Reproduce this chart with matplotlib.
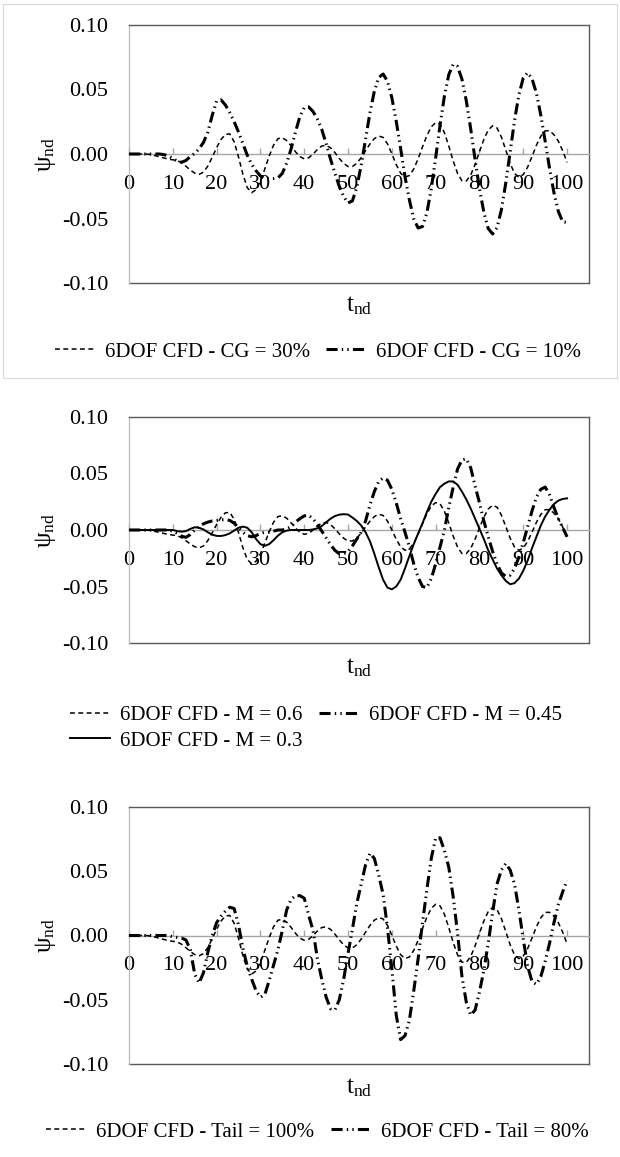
import numpy as np
import matplotlib
matplotlib.use("Agg")
import matplotlib.pyplot as plt
from matplotlib.patches import Rectangle
from matplotlib.ticker import FormatStrFormatter

plt.rcParams['font.family'] = ['Liberation Serif', 'DejaVu Serif']
plt.rcParams['mathtext.fontset'] = 'custom'
plt.rcParams['mathtext.rm'] = 'Liberation Serif'
plt.rcParams['mathtext.it'] = 'Liberation Serif:italic'
plt.rcParams['lines.scale_dashes'] = False

# non-dimensional time samples
t_nd = np.arange(0, 101)

# baseline case (CG = 30%, M = 0.6, Tail = 100%)
psi_base = [
    0, 0, 0, 0, 0, -0.0005, -0.0013, -0.0022, -0.0031, -0.0040,
    -0.0045, -0.0050, -0.0068, -0.0095, -0.0125, -0.0148, -0.0158, -0.0141, -0.0093, -0.0025,
    0.0049, 0.0112, 0.0152, 0.0156, 0.0095, -0.0023, -0.0157, -0.0261, -0.0300, -0.0276,
    -0.0211, -0.0116, -0.0016, 0.0069, 0.0119, 0.0126, 0.0104, 0.0063, 0.0017, -0.0020,
    -0.0038, -0.0030, -0.0001, 0.0035, 0.0062, 0.0067, 0.0048, 0.0011, -0.0034, -0.0073,
    -0.0097, -0.0097, -0.0072, -0.0028, 0.0026, 0.0078, 0.0119, 0.0139, 0.0129, 0.0079,
    0.0001, -0.0082, -0.0149, -0.0179, -0.0167, -0.0116, -0.0037, 0.0056, 0.0143, 0.0211,
    0.0243, 0.0231, 0.0165, 0.0061, -0.0054, -0.0151, -0.0208, -0.0209, -0.0163, -0.0081,
    0.0018, 0.0113, 0.0186, 0.0219, 0.0202, 0.0132, 0.0031, -0.0072, -0.0151, -0.0180,
    -0.0159, -0.0101, -0.0019, 0.0068, 0.0138, 0.0180, 0.0180, 0.0150, 0.0100, 0.0025,
    -0.0065,
]

# CG = 10%
psi_cg10 = [
    0, 0, 0, 0, 0, 0, 0, 0, -0.0005, -0.0015,
    -0.0035, -0.0055, -0.0064, -0.0050, -0.0020, 0.0005, 0.0040, 0.0090, 0.0170, 0.0300,
    0.0410, 0.0420, 0.0380, 0.0320, 0.0250, 0.0170, 0.0080, -0.0010, -0.0080, -0.0130,
    -0.0170, -0.0190, -0.0190, -0.0190, -0.0185, -0.0150, -0.0070, 0.0040, 0.0170, 0.0290,
    0.0360, 0.0365, 0.0330, 0.0270, 0.0190, 0.0080, -0.0040, -0.0150, -0.0250, -0.0330,
    -0.0380, -0.0363, -0.0257, -0.0087, 0.0115, 0.0319, 0.0487, 0.0593, 0.0620, 0.0564,
    0.0436, 0.0254, 0.0043, -0.0176, -0.0356, -0.0503, -0.0574, -0.0562, -0.0455, -0.0268,
    -0.0028, 0.0223, 0.0450, 0.0616, 0.0695, 0.0679, 0.0580, 0.0411, 0.0194, -0.0043,
    -0.0268, -0.0452, -0.0578, -0.0620, -0.0571, -0.0433, -0.0225, 0.0016, 0.0259, 0.0460,
    0.0590, 0.0630, 0.0584, 0.0470, 0.0301, 0.0098, -0.0112, -0.0300, -0.0445, -0.0526,
    -0.0530,
]

# M = 0.45
psi_m045 = [
    0, 0, 0, 0, 0, 0, 0, 0, 0, 0,
    -0.0010, -0.0030, -0.0055, -0.0065, -0.0040, 0.0000, 0.0030, 0.0055, 0.0070, 0.0080,
    0.0085, 0.0090, 0.0092, 0.0085, 0.0060, 0.0020, -0.0020, -0.0050, -0.0060, -0.0050,
    -0.0030, -0.0020, -0.0020, -0.0010, 0.0000, 0.0000, 0.0010, 0.0030, 0.0070, 0.0100,
    0.0125, 0.0130, 0.0100, 0.0050, -0.0010, -0.0070, -0.0130, -0.0180, -0.0210, -0.0210,
    -0.0190, -0.0140, -0.0080, -0.0020, 0.0080, 0.0220, 0.0340, 0.0430, 0.0460, 0.0440,
    0.0360, 0.0240, 0.0100, -0.0020, -0.0150, -0.0300, -0.0420, -0.0500, -0.0510, -0.0430,
    -0.0300, -0.0150, 0.0000, 0.0200, 0.0380, 0.0540, 0.0620, 0.0630, 0.0550, 0.0390,
    0.0240, 0.0080, -0.0060, -0.0190, -0.0300, -0.0380, -0.0410, -0.0400, -0.0340, -0.0240,
    -0.0110, 0.0030, 0.0170, 0.0290, 0.0360, 0.0380, 0.0310, 0.0200, 0.0100, 0.0020,
    -0.0060,
]

# M = 0.3
psi_m03 = [
    0, 0, 0, 0, 0, 0, 0, 0, 0, 0,
    0, -0.0010, -0.0015, -0.0010, 0.0010, 0.0024, 0.0020, 0.0005, -0.0020, -0.0042,
    -0.0052, -0.0053, -0.0045, -0.0030, -0.0005, 0.0020, 0.0030, 0.0020, -0.0020, -0.0080,
    -0.0125, -0.0140, -0.0125, -0.0090, -0.0050, -0.0020, -0.0005, 0.0000, 0.0000, 0.0000,
    0.0000, 0.0000, 0.0005, 0.0015, 0.0035, 0.0068, 0.0100, 0.0123, 0.0136, 0.0140,
    0.0137, 0.0110, 0.0080, 0.0040, -0.0020, -0.0100, -0.0210, -0.0330, -0.0440, -0.0510,
    -0.0525, -0.0500, -0.0440, -0.0340, -0.0230, -0.0125, -0.0030, 0.0060, 0.0160, 0.0250,
    0.0320, 0.0380, 0.0410, 0.0430, 0.0430, 0.0400, 0.0340, 0.0270, 0.0190, 0.0100,
    0.0010, -0.0080, -0.0180, -0.0260, -0.0340, -0.0400, -0.0450, -0.0480, -0.0470, -0.0430,
    -0.0360, -0.0270, -0.0160, -0.0060, 0.0040, 0.0120, 0.0180, 0.0230, 0.0260, 0.0275,
    0.0280,
]

# Tail = 80%
psi_tail80 = [
    0, 0, 0, 0, 0, 0, 0, 0, 0, 0,
    -0.0010, -0.0015, -0.0020, -0.0035, -0.0110, -0.0300, -0.0370, -0.0290, -0.0130, 0.0000,
    0.0100, 0.0150, 0.0190, 0.0220, 0.0210, 0.0080, -0.0100, -0.0240, -0.0340, -0.0430,
    -0.0480, -0.0460, -0.0350, -0.0230, -0.0110, 0.0040, 0.0200, 0.0280, 0.0310, 0.0310,
    0.0290, 0.0160, 0.0040, -0.0180, -0.0340, -0.0480, -0.0570, -0.0580, -0.0500, -0.0340,
    -0.0140, 0.0050, 0.0250, 0.0400, 0.0550, 0.0640, 0.0600, 0.0470, 0.0320, 0.0060,
    -0.0260, -0.0620, -0.0810, -0.0780, -0.0660, -0.0430, -0.0180, 0.0100, 0.0360, 0.0600,
    0.0760, 0.0760, 0.0660, 0.0530, 0.0300, 0.0020, -0.0320, -0.0520, -0.0620, -0.0580,
    -0.0440, -0.0270, -0.0060, 0.0180, 0.0400, 0.0510, 0.0560, 0.0510, 0.0400, 0.0200,
    -0.0030, -0.0240, -0.0360, -0.0380, -0.0320, -0.0200, -0.0060, 0.0100, 0.0240, 0.0340,
    0.0430,
]

x_ticks = list(range(0, 101, 10))
y_ticks = [-0.10, -0.05, 0.00, 0.05, 0.10]

labels_cg = ["6DOF CFD - CG = 30%", "6DOF CFD - CG = 10%"]
labels_m = ["6DOF CFD - M = 0.6", "6DOF CFD - M = 0.45", "6DOF CFD - M = 0.3"]
labels_tail = ["6DOF CFD - Tail = 100%", "6DOF CFD - Tail = 80%"]

W, H = 620, 1157
fig = plt.figure(figsize=(W / 100, H / 100), dpi=100)

DASHED = dict(color="black", lw=1.1, linestyle=(0, (3.5, 2.5)))
DASHDOT = dict(color="black", lw=2.2, linestyle=(0, (8.0, 3.0, 1.0, 3.0, 1.0, 3.0)),
               dash_capstyle="butt")
SOLID = dict(color="black", lw=1.4)

# light frame round the first chart
fig.add_artist(Rectangle((3 / W, 1 - 378 / H), 614 / W, 374 / H,
                         transform=fig.transFigure, fill=False,
                         ec="#d9d9d9", lw=0.8))


def make_axes(top, bottom):
    ax = fig.add_axes([129 / W, 1 - bottom / H, 460 / W, (bottom - top) / H])
    ax.set_xlim(0, 105)
    ax.set_ylim(-0.10, 0.10)
    ax.set_xticks(x_ticks)
    ax.set_yticks(y_ticks)
    ax.yaxis.set_major_formatter(FormatStrFormatter("%.2f"))
    ax.spines["bottom"].set_position(("data", 0))
    ax.spines["bottom"].set_color("#a6a6a6")
    ax.spines["left"].set_color("#bfbfbf")
    for s in ("top", "right"):
        ax.spines[s].set_color("#595959")
    for s in ax.spines.values():
        s.set_linewidth(1.0)
    ax.axhline(-0.10, color="#595959", lw=1.0, clip_on=False)
    ax.tick_params(axis="x", direction="in", length=4, color="#a6a6a6",
                   width=1, pad=15, labelsize=16)
    ax.tick_params(axis="y", length=0, pad=15, labelsize=16)
    return ax


def axis_titles(ylab_y, xlab_y):
    fig.text(45 / W, 1 - ylab_y / H, r"$\mathrm{\psi}_{\mathrm{nd}}$", rotation=90,
             ha="center", va="center", fontsize=18)
    fig.text(359 / W, 1 - xlab_y / H, r"$\mathrm{t}_{\mathrm{nd}}$",
             ha="center", va="center", fontsize=18)


def add_legend(ax, handles, labels, cx, cy):
    ax.legend(handles, labels, loc="center", bbox_to_anchor=(cx / W, 1 - cy / H),
              bbox_transform=fig.transFigure, ncol=2, frameon=False, fontsize=15,
              handlelength=1.9, handletextpad=0.5, columnspacing=0.8,
              labelspacing=0.3, borderpad=0)


# panel 1: CG position
ax1 = make_axes(25, 283)
l1, = ax1.plot(t_nd, psi_base, zorder=3, **DASHED)
l2, = ax1.plot(t_nd, psi_cg10, zorder=3, **DASHDOT)
axis_titles(154, 306)
add_legend(ax1, [l1, l2], labels_cg, 318, 352)

# panel 2: Mach number
ax2 = make_axes(417, 643)
m1, = ax2.plot(t_nd, psi_base, zorder=3, **DASHED)
m2, = ax2.plot(t_nd, psi_m045, zorder=3, **DASHDOT)
m3, = ax2.plot(t_nd, psi_m03, zorder=3, **SOLID)
axis_titles(530, 668)
# column-wise fill: row 1 = M 0.6 / M 0.45, row 2 = M 0.3
add_legend(ax2, [m1, m3, m2], [labels_m[0], labels_m[2], labels_m[1]], 316, 728)

# panel 3: tail size
ax3 = make_axes(807, 1064)
n1, = ax3.plot(t_nd, psi_base, zorder=3, **DASHED)
n2, = ax3.plot(t_nd, psi_tail80, zorder=3, **DASHDOT)
axis_titles(935, 1088)
add_legend(ax3, [n1, n2], labels_tail, 317, 1132)

fig.savefig("out.png", dpi=100, facecolor="white")
